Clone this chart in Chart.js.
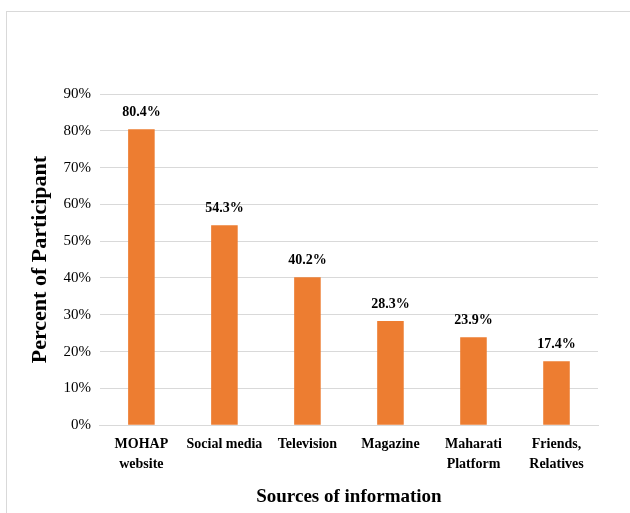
<!DOCTYPE html>
<html><head><meta charset="utf-8">
<script src="https://cdn.jsdelivr.net/npm/chart.js@4"></script>
<style>
html,body{margin:0;padding:0;background:#fff;}
#wrap{position:relative;width:630px;height:513px;overflow:hidden;}
#frame{position:absolute;left:6px;top:11px;width:640px;height:520px;border:1px solid #d9d9d9;box-sizing:border-box;}
canvas{position:absolute;left:0;top:0;}
</style></head>
<body>
<div id="wrap"><div id="frame"></div><canvas id="c" width="630" height="513"></canvas></div>
<script>
const categories = [["MOHAP","website"], "Social media", "Television", "Magazine", ["Maharati","Platform"], ["Friends,","Relatives"]];
const percentValues = [80.4, 54.3, 40.2, 28.3, 23.9, 17.4];
const yTicks = [0,10,20,30,40,50,60,70,80,90];

const serif = "'Liberation Serif','Times New Roman',serif";

const dataLabelPlugin = {
  id: 'dataLabels',
  afterDatasetsDraw(chart) {
    const ctx = chart.ctx;
    const meta = chart.getDatasetMeta(0);
    ctx.save();
    ctx.font = "bold 14px " + serif;
    ctx.fillStyle = "#000";
    ctx.textAlign = "center";
    ctx.textBaseline = "bottom";
    meta.data.forEach((bar, i) => {
      ctx.fillText(percentValues[i].toFixed(1) + "%", bar.x, bar.y - 10);
    });
    ctx.restore();
  }
};

new Chart(document.getElementById('c'), {
  type: 'bar',
  data: {
    labels: categories,
    datasets: [{
      data: percentValues,
      backgroundColor: '#ED7D31',
      borderWidth: 0,
      barPercentage: 0.64,
      categoryPercentage: 0.5
    }]
  },
  options: {
    responsive: false,
    animation: false,
    devicePixelRatio: 1,
    layout: { padding: { left: 27, right: 32, top: 94, bottom: 5 } },
    plugins: { legend: { display: false }, tooltip: { enabled: false } },
    scales: {
      x: {
        grid: { display: false, drawTicks: false },
        border: { display: true, color: '#d9d9d9', width: 1 },
        ticks: { color: '#000', font: { family: serif, size: 14, weight: 'bold', lineHeight: 1.43 }, maxRotation: 0, autoSkip: false, padding: 9 },
        title: { display: true, text: 'Sources of information', color: '#000', font: { family: serif, size: 19, weight: 'bold' }, padding: { top: 2, bottom: 0 } }
      },
      y: {
        min: 0, max: 90,
        afterBuildTicks(axis) { axis.ticks = yTicks.map(v => ({ value: v })); },
        grid: { color: '#d9d9d9', drawTicks: false, lineWidth: 1 },
        border: { display: false },
        ticks: { color: '#000', font: { family: serif, size: 15 }, padding: 9, callback: v => v + '%' },
        title: { display: true, text: 'Percent of Participant', color: '#000', font: { family: serif, size: 22, weight: 'bold' }, padding: { top: 0, bottom: 1 } }
      }
    }
  },
  plugins: [dataLabelPlugin]
});
</script>
</body></html>
